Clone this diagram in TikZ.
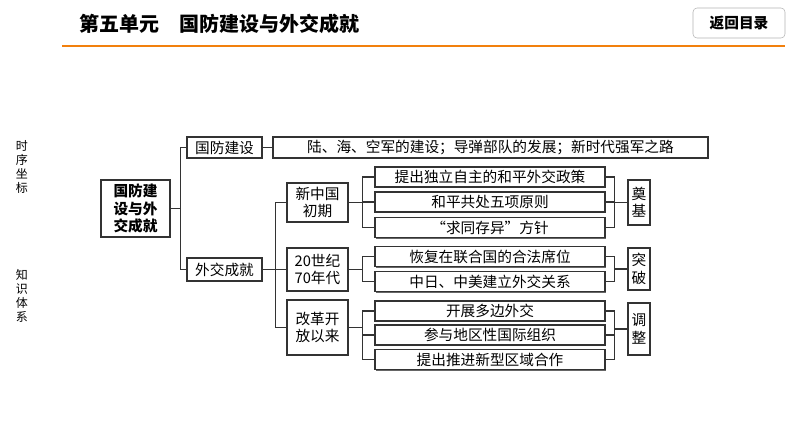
\documentclass[tikz,border=0pt]{standalone}
\usepackage{fontspec}
\setmainfont{Noto Sans CJK SC}
\usetikzlibrary{shadows}
\begin{document}
\begin{tikzpicture}[x=0.75pt,y=-0.75pt,
  bx/.style={draw=black!80,line width=0.8pt,fill=white,inner sep=0pt,font=\fontsize{11}{13}\selectfont,align=center,
    drop shadow={shadow xshift=1pt,shadow yshift=-1pt,fill=black!60,opacity=1}},
  ln/.style={draw=black!80,line width=0.8pt},
  side/.style={font=\fontsize{9}{10.5}\selectfont,align=center,inner sep=0pt}]
\useasboundingbox (0,0) rectangle (794,447);
% header
\node[anchor=west,font=\fontsize{15}{18}\selectfont\bfseries] (title) at (75,24) {第五单元\quad 国防建设与外交成就};
\draw[draw=orange!80!brown,line width=1.6pt] (62,46) -- (785,46);
\node[draw=black!30,rounded corners=3pt,minimum width={92*0.75pt},minimum height={30*0.75pt},font=\fontsize{11}{13}\selectfont\bfseries] (back) at (739,23) {返回目录};
% side labels
\node[side] (s1) at (22,167) {时\\序\\坐\\标};
\node[side] (s2) at (22,296) {知\\识\\体\\系};
% main
\node[bx,minimum width={69*0.75pt},minimum height={57*0.75pt},font=\fontsize{11}{13}\selectfont\bfseries] (main) at (135.5,208.5) {国防建\\设与外\\交成就};
\node[bx,minimum width={75*0.75pt},minimum height={21*0.75pt}] (gf) at (224.5,147.5) {国防建设};
\node[bx,minimum width={75*0.75pt},minimum height={23*0.75pt}] (wj) at (224.5,269.5) {外交成就};
\node[bx,minimum width={435*0.75pt},minimum height={21*0.75pt}] (lu) at (490.5,147.5) {陆、海、空军的建设；导弹部队的发展；新时代强军之路};
\node[bx,minimum width={61*0.75pt},minimum height={39*0.75pt}] (x1) at (317.5,202.5) {新中国\\初期};
\node[bx,minimum width={61*0.75pt},minimum height={43*0.75pt}] (x2) at (317.5,269.5) {20世纪\\70年代};
\node[bx,minimum width={61*0.75pt},minimum height={55*0.75pt}] (x3) at (317.5,327.5) {改革开\\放以来};
\tikzset{it/.style={bx,minimum width={230*0.75pt},minimum height={20*0.75pt}}}
\node[it] (a1) at (490,177) {提出独立自主的和平外交政策};
\node[it] (a2) at (490,202) {和平共处五项原则};
\node[it] (a3) at (490,227.5) {“求同存异”方针};
\node[it] (b1) at (490,256.5) {恢复在联合国的合法席位};
\node[it] (b2) at (490,281.5) {中日、中美建立外交关系};
\node[it] (c1) at (490,311) {开展多边外交};
\node[it] (c2) at (490,335) {参与地区性国际组织};
\node[it] (c3) at (490,359.5) {提出推进新型区域合作};
\node[bx,minimum width={22*0.75pt},minimum height={45*0.75pt}] (r1) at (639,202.5) {奠\\基};
\node[bx,minimum width={22*0.75pt},minimum height={42*0.75pt}] (r2) at (639,269) {突\\破};
\node[bx,minimum width={22*0.75pt},minimum height={52*0.75pt}] (r3) at (639,329) {调\\整};
% connectors
\begin{scope}[on background layer/.style={}]
\draw[ln] (main.east) -- ++(10,0) coordinate (jm);
\draw[ln] (jm) |- (gf.west); \draw[ln] (jm) |- (wj.west);
\draw[ln] (gf.east) -- (lu.west);
\draw[ln] (wj.east) -- ++(13,0) coordinate (jw);
\draw[ln] (jw) |- (x1.west); \draw[ln] (jw) |- (x2.west); \draw[ln] (jw) |- (x3.west);
\draw[ln] (x1.east) -- ++(14,0) coordinate (j1);
\draw[ln] (j1) |- (a1.west); \draw[ln] (j1) |- (a2.west); \draw[ln] (j1) |- (a3.west);
\draw[ln] (x2.east) -- ++(14,0) coordinate (j2);
\draw[ln] (j2) |- (b1.west); \draw[ln] (j2) |- (b2.west);
\draw[ln] (x3.east) -- ++(14,0) coordinate (j3);
\draw[ln] (j3) |- (c1.west); \draw[ln] (j3) |- (c2.west); \draw[ln] (j3) |- (c3.west);
\draw[ln] (r1.west) -- ++(-13,0) coordinate (k1);
\draw[ln] (k1) |- (a1.east); \draw[ln] (k1) |- (a2.east); \draw[ln] (k1) |- (a3.east);
\draw[ln] (r2.west) -- ++(-13,0) coordinate (k2);
\draw[ln] (k2) |- (b1.east); \draw[ln] (k2) |- (b2.east);
\draw[ln] (r3.west) -- ++(-13,0) coordinate (k3);
\draw[ln] (k3) |- (c1.east); \draw[ln] (k3) |- (c2.east); \draw[ln] (k3) |- (c3.east);
\end{scope}
\end{tikzpicture}
\end{document}
